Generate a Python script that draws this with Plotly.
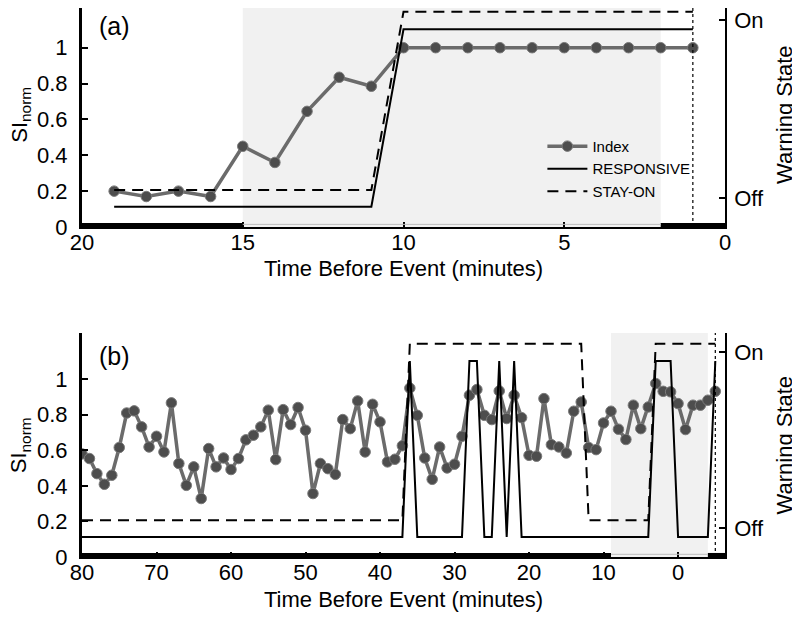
import plotly.graph_objects as go

# ---------------- data ----------------
# Panel (a)
A_MINUTES = [19, 18, 17, 16, 15, 14, 13, 12, 11, 10, 9, 8, 7, 6, 5, 4, 3, 2, 1]
A_INDEX = [0.20, 0.17, 0.20, 0.17, 0.45, 0.36, 0.645, 0.835, 0.785, 1.0,
           1.0, 1.0, 1.0, 1.0, 1.0, 1.0, 1.0, 1.0, 1.0]
A_RESPONSIVE = [0, 0, 0, 0, 0, 0, 0, 0, 0, 1, 1, 1, 1, 1, 1, 1, 1, 1, 1]
A_STAYON = [0, 0, 0, 0, 0, 0, 0, 0, 0, 1, 1, 1, 1, 1, 1, 1, 1, 1, 1]
A_SHADE = (15, 2)
A_EVENT = 1

# Panel (b)
B_MINUTES = list(range(80, -6, -1))
B_INDEX = [0.58, 0.554, 0.469, 0.409, 0.46, 0.616, 0.81, 0.822, 0.732, 0.619,
           0.679, 0.591, 0.867, 0.526, 0.403, 0.507, 0.329, 0.61, 0.507, 0.557,
           0.492, 0.554, 0.659, 0.685, 0.732, 0.826, 0.548, 0.829, 0.745, 0.841,
           0.713, 0.357, 0.526, 0.497, 0.465, 0.773, 0.722, 0.878, 0.591, 0.859,
           0.76, 0.535, 0.55, 0.626, 0.95, 0.797, 0.557, 0.437, 0.619, 0.501,
           0.522, 0.679, 0.91, 0.942, 0.797, 0.773, 0.934, 0.779, 0.91, 0.784,
           0.572, 0.567, 0.891, 0.632, 0.619, 0.585, 0.82, 0.872, 0.616, 0.604,
           0.754, 0.82, 0.719, 0.661, 0.854, 0.722, 0.844, 0.976, 0.932, 0.929,
           0.863, 0.717, 0.854, 0.854, 0.882, 0.932]
B_RESPONSIVE = [0, 0, 0, 0, 0, 0, 0, 0, 0, 0,
                0, 0, 0, 0, 0, 0, 0, 0, 0, 0,
                0, 0, 0, 0, 0, 0, 0, 0, 0, 0,
                0, 0, 0, 0, 0, 0, 0, 0, 0, 0,
                0, 0, 0, 0, 1, 0, 0, 0, 0, 0,
                0, 0, 1, 1, 0, 0, 1, 0, 1, 0,
                0, 0, 0, 0, 0, 0, 0, 0, 0, 0,
                0, 0, 0, 0, 0, 0, 0, 1, 1, 1,
                0, 0, 0, 0, 0, 1]
B_STAYON = [0, 0, 0, 0, 0, 0, 0, 0, 0, 0,
            0, 0, 0, 0, 0, 0, 0, 0, 0, 0,
            0, 0, 0, 0, 0, 0, 0, 0, 0, 0,
            0, 0, 0, 0, 0, 0, 0, 0, 0, 0,
            0, 0, 0, 0, 1, 1, 1, 1, 1, 1,
            1, 1, 1, 1, 1, 1, 1, 1, 1, 1,
            1, 1, 1, 1, 1, 1, 1, 1, 0, 0,
            0, 0, 0, 0, 0, 0, 0, 1, 1, 1,
            1, 1, 1, 1, 1, 1]
B_SHADE = (9, -4)
B_EVENT = -5

# plotted levels of the warning states (Off, On)
RESP_LEVELS = (0.113, 1.103)
STAY_LEVELS = (0.207, 1.2)
STATE_TICKS = [0.162, 1.153]
STATE_LABELS = ["Off", "On"]
Y_TICKS = [0, 0.2, 0.4, 0.6, 0.8, 1]
Y_LABELS = ["0", "0.2", "0.4", "0.6", "0.8", "1"]
A_XTICKS = [20, 15, 10, 5, 0]
B_XTICKS = [80, 70, 60, 50, 40, 30, 20, 10, 0]

X_TITLE = "Time Before Event (minutes)"
Y_TITLE = "SI<sub>norm</sub>"
Y2_TITLE = "Warning State"

assert len(B_INDEX) == len(B_MINUTES) == len(B_RESPONSIVE) == len(B_STAYON)

# ---------------- style ----------------
FONT = "Arial, 'Liberation Sans', Helvetica, sans-serif"
IDX_LINE = "#6b6b6b"
IDX_MARK = "#4d4d4d"
SHADE = "#f1f1f1"
YR_A = [0, 1.2214]
YR_B = [0, 1.26]

fig = go.Figure()


def add_panel(xs, idx, resp, stay, xa, ya, ya2, legend):
    fig.add_trace(go.Scatter(
        x=xs, y=idx, mode="lines+markers", name="Index", showlegend=legend,
        line=dict(color=IDX_LINE, width=3.5),
        marker=dict(color=IDX_MARK, size=10.5, symbol="circle",
                    line=dict(color="#7a7a7a", width=1)),
        xaxis=xa, yaxis=ya))
    fig.add_trace(go.Scatter(
        x=xs, y=[RESP_LEVELS[s] for s in resp], mode="lines", name="RESPONSIVE",
        showlegend=legend, line=dict(color="black", width=2),
        xaxis=xa, yaxis=ya2))
    fig.add_trace(go.Scatter(
        x=xs, y=[STAY_LEVELS[s] for s in stay], mode="lines", name="STAY-ON",
        showlegend=legend, line=dict(color="black", width=2, dash="11px,7px"),
        xaxis=xa, yaxis=ya2))


add_panel(A_MINUTES, A_INDEX, A_RESPONSIVE, A_STAYON, "x", "y", "y2", True)
add_panel(B_MINUTES, B_INDEX, B_RESPONSIVE, B_STAYON, "x2", "y3", "y4", False)

shapes = []
for xref, yref, shade, event, xr in (("x", "y", A_SHADE, A_EVENT, (20, 0)),
                                     ("x2", "y3", B_SHADE, B_EVENT, (80, -6.3))):
    shapes.append(dict(type="rect", xref=xref, yref=yref + " domain",
                       x0=shade[0], x1=shade[1], y0=0, y1=1,
                       fillcolor=SHADE, line=dict(width=0), layer="below"))
    shapes.append(dict(type="line", xref=xref, yref=yref + " domain",
                       x0=event, x1=event, y0=0, y1=1,
                       line=dict(color="black", width=1.2, dash="dot"), layer="above"))
    # thick black bar on the time axis outside the shaded window
    for seg in ((xr[0], shade[0]), (shade[1], xr[1])):
        shapes.append(dict(type="line", xref=xref, yref=yref + " domain",
                           x0=seg[0], x1=seg[1], y0=0.008, y1=0.008,
                           line=dict(color="black", width=4.5), layer="above"))
    shapes.append(dict(type="line", xref=xref, yref=yref + " domain",
                       x0=shade[0], x1=shade[1], y0=0.012, y1=0.012,
                       line=dict(color="#bdbdbd", width=1), layer="above"))

TICKFONT = dict(family=FONT, size=22, color="black")


def xaxis(anchor, rng, ticks):
    return dict(anchor=anchor, domain=[0, 1], range=rng, tickmode="array",
                tickvals=ticks, ticktext=[str(t) for t in ticks],
                ticks="inside", ticklen=5, tickwidth=1.5, tickcolor="black",
                showline=True, linecolor="black", linewidth=1.5,
                showgrid=False, zeroline=False, tickfont=TICKFONT,
                ticklabelstandoff=-5, automargin=False,
                ticklabeloverflow="allow")


def yleft(anchor, dom, rng):
    return dict(anchor=anchor, domain=dom, range=rng, tickmode="array",
                tickvals=Y_TICKS, ticktext=Y_LABELS,
                ticks="inside", ticklen=6, tickwidth=1.5, tickcolor="black",
                showline=True, linecolor="black", linewidth=3,
                showgrid=False, zeroline=False, tickfont=TICKFONT,
                ticklabelstandoff=7, automargin=False,
                ticklabeloverflow="allow")


def yright(anchor, over, rng):
    return dict(anchor=anchor, overlaying=over, side="right", range=rng,
                tickmode="array", tickvals=STATE_TICKS, ticktext=STATE_LABELS,
                ticks="inside", ticklen=6, tickwidth=1.5, tickcolor="black",
                showline=True, linecolor="black", linewidth=1.5,
                showgrid=False, zeroline=False, tickfont=TICKFONT,
                ticklabelstandoff=3, automargin=False,
                ticklabeloverflow="allow")


def ann(text, x, y, angle=0, size=22, xanchor="center", yanchor="middle"):
    return dict(text=text, xref="paper", yref="paper", x=x, y=y,
                xanchor=xanchor, yanchor=yanchor, textangle=angle,
                showarrow=False, font=dict(family=FONT, size=size, color="black"))


annotations = [
    ann("(a)", 0.023, 0.9964, size=25, xanchor="left", yanchor="top"),
    ann("(b)", 0.023, 0.395, size=25, xanchor="left", yanchor="top"),
    ann(X_TITLE, 0.5, 0.526),
    ann(X_TITLE, 0.5, -0.0783),
    ann(Y_TITLE, -0.096, 0.806, angle=-90),
    ann(Y_TITLE, -0.096, 0.204, angle=-90),
    ann(Y2_TITLE, 1.0925, 0.806, angle=-90),
    ann(Y2_TITLE, 1.0925, 0.204, angle=-90),
]

# the page body adds an 8 px offset, so the figure is sized 792 x 621
fig.update_layout(
    width=792, height=621,
    margin=dict(l=74, r=75, t=0, b=72, autoexpand=False),
    paper_bgcolor="white", plot_bgcolor="white",
    font=dict(family=FONT, color="black"),
    xaxis=xaxis("y", [20, 0], A_XTICKS),
    xaxis2=xaxis("y3", [80, -6.3], B_XTICKS),
    yaxis=yleft("x", [0.6011, 1], YR_A),
    yaxis2=yright("x", "y", YR_A),
    yaxis3=yleft("x2", [0, 0.408], YR_B),
    yaxis4=yright("x2", "y3", YR_B),
    shapes=shapes,
    showlegend=True,
    legend=dict(x=0.716, y=0.778, xanchor="left", yanchor="top",
                bgcolor="rgba(0,0,0,0)", borderwidth=0,
                font=dict(family=FONT, size=15, color="black"),
                tracegroupgap=0, itemwidth=40),
    annotations=annotations,
)

fig.write_html("out.html")
